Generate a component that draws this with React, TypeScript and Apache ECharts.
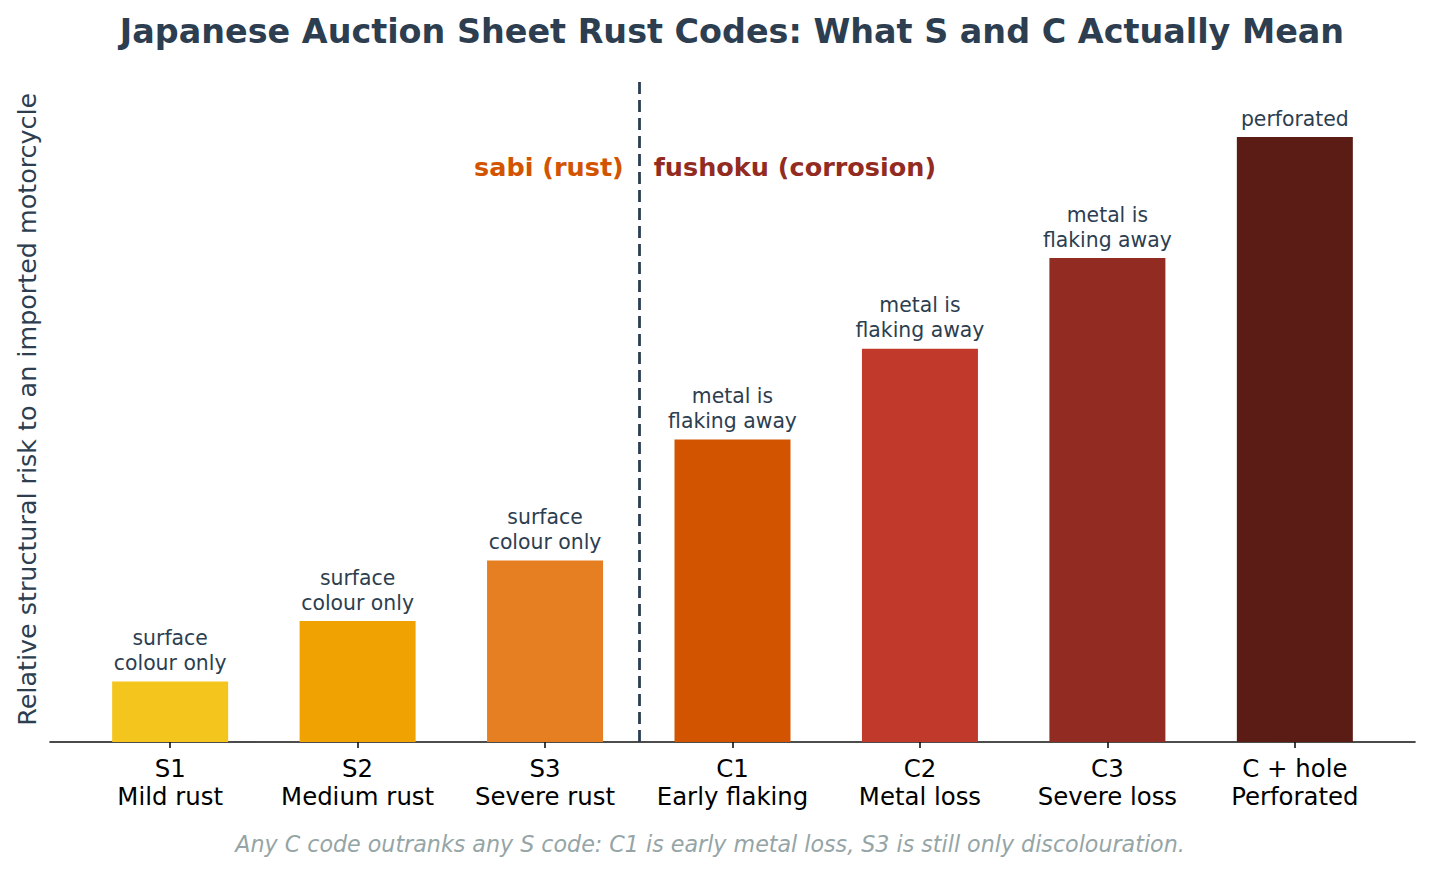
import { useEffect, useRef } from "react";
import * as echarts from "echarts";

// rust codes as printed on the auction sheet
const codes = ["S1", "S2", "S3", "C1", "C2", "C3", "C + hole"];
const codeNames = ["Mild rust", "Medium rust", "Severe rust", "Early flaking", "Metal loss", "Severe loss", "Perforated"];
const riskValues = [1, 2, 3, 5, 6.5, 8, 10];
const barNotes = [
  "surface\ncolour only",
  "surface\ncolour only",
  "surface\ncolour only",
  "metal is\nflaking away",
  "metal is\nflaking away",
  "metal is\nflaking away",
  "perforated",
];
const barColors = ["#f4c51c", "#f0a202", "#e67e22", "#d35400", "#c0392b", "#922b21", "#5b1c15"];

// the S / C split sits between S3 and C1
const dividerX = 2.5;
const groupLabels = [
  { text: "sabi (rust)", x: 2.42, y: 9.5, side: "left", color: "#d35400" },
  { text: "fushoku (corrosion)", x: 2.58, y: 9.5, side: "right", color: "#922b21" },
];

const FONT = "DejaVu Sans";
const INK = "#2c3e50";

const App = () => {
  const chartRef = useRef<HTMLDivElement | null>(null);

  useEffect(() => {
    if (!chartRef.current) return;
    const chart = echarts.init(chartRef.current, null, { renderer: "svg" });
    const ticks = codes.map((_, i) => i);

    chart.setOption({
      animation: false,
      backgroundColor: "#ffffff",
      textStyle: { fontFamily: FONT },
      grid: {
        left: 50,
        right: 15,
        top: 76.5,
        bottom: 128,
        containLabel: false,
        outerBoundsMode: "none",
      },
      graphic: [
        {
          type: "text",
          x: 732,
          y: 31,
          style: {
            text: "Japanese Auction Sheet Rust Codes: What S and C Actually Mean",
            fontFamily: FONT,
            fontSize: 33.4,
            fontWeight: "bold",
            fill: INK,
            textAlign: "center",
            textVerticalAlign: "middle",
          },
        },
        {
          type: "text",
          x: 710,
          y: 844,
          style: {
            text: "Any C code outranks any S code: C1 is early metal loss, S3 is still only discolouration.",
            fontFamily: FONT,
            fontSize: 22.2,
            fontStyle: "italic",
            fill: "#95a5a6",
            textAlign: "center",
            textVerticalAlign: "middle",
          },
        },
      ],
      xAxis: {
        type: "value",
        min: -0.641,
        max: 6.641,
        splitLine: { show: false },
        axisLine: { show: true, lineStyle: { color: "#111111", width: 1.6 } },
        axisTick: {
          show: true,
          customValues: ticks,
          length: 6,
          lineStyle: { color: "#111111", width: 1.6 },
        },
        axisLabel: {
          customValues: ticks,
          formatter: (v: number) => `${codes[Math.round(v)]}\n${codeNames[Math.round(v)]}`,
          fontFamily: FONT,
          fontSize: 24.4,
          lineHeight: 28,
          color: "#000000",
          margin: 12,
        },
      },
      yAxis: {
        type: "value",
        min: 0,
        max: 11,
        axisLine: { show: false },
        axisTick: { show: false },
        axisLabel: { show: false },
        splitLine: { show: false },
        name: "Relative structural risk to an imported motorcycle",
        nameLocation: "middle",
        nameRotate: 90,
        nameGap: 11,
        nameTextStyle: { fontFamily: FONT, fontSize: 25.4, color: INK },
      },
      series: [
        {
          type: "bar",
          barWidth: 116,
          data: riskValues.map((v, i) => ({
            value: [i, v],
            itemStyle: { color: barColors[i] },
            label: { formatter: barNotes[i] },
          })),
          label: {
            show: true,
            position: "top",
            distance: 6,
            fontFamily: FONT,
            fontSize: 20.4,
            lineHeight: 25,
            color: INK,
          },
          markLine: {
            silent: true,
            symbol: "none",
            label: { show: false },
            lineStyle: { type: [12, 6], width: 2.8, color: INK },
            data: [{ xAxis: dividerX }],
          },
        },
        {
          type: "scatter",
          symbolSize: 0,
          silent: true,
          itemStyle: { opacity: 1 },
          data: groupLabels.map((g) => ({
            value: [g.x, g.y],
            label: {
              show: true,
              position: g.side,
              distance: 0,
              formatter: g.text,
              fontFamily: FONT,
              fontSize: 25.5,
              fontWeight: "bold",
              color: g.color,
              opacity: 1,
            },
          })),
        },
      ],
    });

    return () => chart.dispose();
  }, []);

  return (
    <div
      ref={chartRef}
      style={{ position: "fixed", left: 0, top: 0, width: "1430px", height: "870px" }}
    />
  );
};

export default App;
